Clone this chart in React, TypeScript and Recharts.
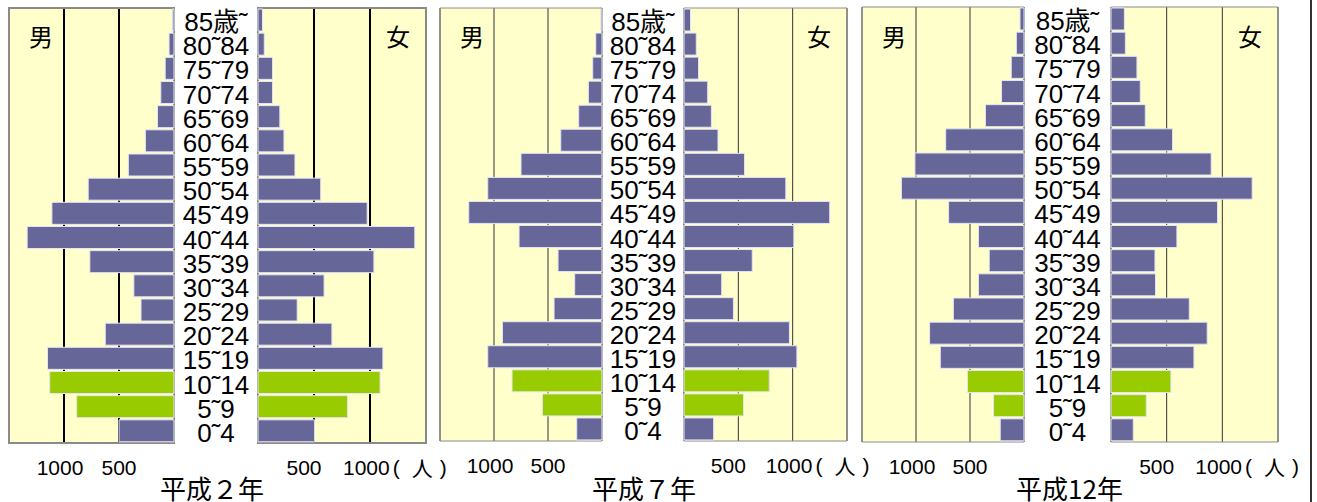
import {
  BarChart,
  Bar,
  Cell,
  XAxis,
  YAxis,
  CartesianGrid,
  ReferenceArea,
} from "recharts";

const ageGroups = [
  "85歳˜", "80˜84", "75˜79", "70˜74", "65˜69", "60˜64", "55˜59", "50˜54", "45˜49",
  "40˜44", "35˜39", "30˜34", "25˜29", "20˜24", "15˜19", "10˜14", "5˜9", "0˜4",
];
const youthGroups = ["10˜14", "5˜9"];

const maleH2 = [15, 45, 80, 120, 150, 260, 415, 780, 1110, 1335, 765, 365, 300, 625, 1150, 1130, 885, 500];
const femaleH2 = [40, 56, 130, 130, 195, 232, 330, 560, 975, 1400, 1035, 590, 350, 660, 1115, 1090, 800, 505];
const maleH7 = [10, 58, 86, 126, 216, 382, 750, 1058, 1234, 768, 407, 253, 444, 922, 1058, 833, 552, 234];
const femaleH7 = [60, 113, 134, 218, 252, 313, 557, 937, 1341, 1011, 628, 347, 455, 970, 1039, 785, 548, 273];
const maleH12 = [37, 71, 118, 208, 357, 725, 1010, 1135, 698, 422, 322, 422, 654, 874, 775, 524, 282, 220];
const femaleH12 = [120, 129, 233, 263, 308, 553, 900, 1268, 957, 592, 395, 400, 703, 864, 745, 538, 317, 200];

const gridTicks = [500, 1000];
const maxPeople = 1500;
const unitLabel = "人";

const BAR = "#666699";
const YOUTH = "#99cc00";
const LATIN = "'Liberation Sans', Arial, 'Noto Sans CJK JP', sans-serif";
const CJK = "'Noto Sans CJK JP', 'Liberation Sans', sans-serif";

const panels = [
  { title: "平成２年", male: maleH2, female: femaleH2, top: 8, plotH: 435, leftX: 9, leftW: 165, rightZero: 258, rightW: 168, bold: true, titleShift: -4 },
  { title: "平成７年", male: maleH7, female: femaleH7, top: 8, plotH: 433, leftX: 440, leftW: 162, rightZero: 684, rightW: 163, bold: false, titleShift: 1 },
  { title: "平成12年", male: maleH12, female: femaleH12, top: 7, plotH: 435, leftX: 862, leftW: 162, rightZero: 1111, rightW: 167, bold: false, titleShift: 2 },
];

const AXIS_H = 40;

function toRows(values: number[]) {
  return ageGroups.map((age, i) => ({ age, value: values[i] }));
}

function LeftTick({ x, y, payload }: any) {
  const dx = payload.value === 1000 ? -4 : 0;
  return (
    <text x={x + dx} y={y + 24} textAnchor="middle" dominantBaseline="central" fontSize={21} fontFamily={LATIN} fill="#000">
      {payload.value}
    </text>
  );
}

function RightTick({ x, y, payload }: any) {
  if (payload.value === 1000) {
    return (
      <text x={x - 27} y={y + 24} textAnchor="start" dominantBaseline="central" fontSize={21} fontFamily={LATIN} fill="#000">
        {payload.value}
        <tspan dx={3}>(</tspan>
        <tspan dx={12} fontFamily={CJK}>{unitLabel}</tspan>
        <tspan dx={7}>)</tspan>
      </text>
    );
  }
  return (
    <text x={x - 10} y={y + 24} textAnchor="middle" dominantBaseline="central" fontSize={21} fontFamily={LATIN} fill="#000">
      {payload.value}
    </text>
  );
}

function AgeTick({ x, y, payload, gap }: any) {
  return (
    <text x={x - gap / 2} y={y + 2} textAnchor="middle" dominantBaseline="central" fontSize={26} fontFamily={LATIN} fill="#000">
      {payload.value}
    </text>
  );
}

function HalfChart({ values, side, panel }: any) {
  const isLeft = side === "left";
  const gap = panel.rightZero - (panel.leftX + panel.leftW);
  const yAxisW = isLeft ? 0 : gap;
  const width = isLeft ? panel.leftW : gap + panel.rightW;
  const left = isLeft ? panel.leftX : panel.leftX + panel.leftW;
  const frameW = panel.bold ? 2 : 1;
  return (
    <div style={{ position: "absolute", left, top: 0 }}>
      <BarChart
        width={width}
        height={panel.top + panel.plotH + AXIS_H}
        data={toRows(values)}
        layout="vertical"
        margin={{ top: panel.top, right: 0, bottom: 0, left: 0 }}
        barCategoryGap={1}
      >
        <CartesianGrid
          horizontal={false}
          fill="#ffffcc"
          fillOpacity={1}
          stroke={panel.bold ? "#000" : "#333"}
          strokeWidth={panel.bold ? 2 : 1}
        />
        <XAxis
          type="number"
          domain={[0, maxPeople]}
          reversed={isLeft}
          ticks={gridTicks}
          interval={0}
          axisLine={false}
          tickLine={false}
          tickSize={0}
          tickMargin={0}
          height={AXIS_H}
          tick={isLeft ? <LeftTick /> : <RightTick />}
        />
        <YAxis
          type="category"
          dataKey="age"
          width={yAxisW}
          hide={isLeft}
          interval={0}
          axisLine={false}
          tickLine={false}
          tickSize={0}
          tickMargin={0}
          tick={<AgeTick gap={gap} />}
        />
        <Bar dataKey="value" isAnimationActive={false} stroke="#e4e4f4" strokeWidth={1}>
          {ageGroups.map((age) => (
            <Cell key={age} fill={youthGroups.includes(age) ? YOUTH : BAR} />
          ))}
        </Bar>
        <ReferenceArea x1={0} x2={maxPeople} fill="none" fillOpacity={0} stroke="#8a8a8a" strokeWidth={frameW} />
      </BarChart>
    </div>
  );
}

function Panel({ panel }: any) {
  const labelCenter = panel.leftX + panel.leftW + (panel.rightZero - panel.leftX - panel.leftW) / 2;
  const rightEdge = panel.rightZero + panel.rightW;
  const sexStyle: any = {
    position: "absolute",
    top: 22,
    fontSize: 24,
    fontFamily: CJK,
    lineHeight: "28px",
    color: "#000",
  };
  return (
    <>
      <HalfChart values={panel.male} side="left" panel={panel} />
      <HalfChart values={panel.female} side="right" panel={panel} />
      <div style={{ ...sexStyle, left: panel.leftX + 20 }}>男</div>
      <div style={{ ...sexStyle, left: rightEdge - 40 }}>女</div>
      <div
        style={{
          position: "absolute",
          left: labelCenter - 80 + panel.titleShift,
          width: 160,
          top: 471,
          textAlign: "center",
          fontSize: 26,
          lineHeight: "34px",
          fontFamily: CJK,
          color: "#000",
        }}
      >
        {panel.title}
      </div>
    </>
  );
}

export default function App() {
  return (
    <div style={{ position: "absolute", left: 0, top: 0, width: 1317, height: 502, background: "#fff", overflow: "hidden" }}>
      <style>{".recharts-surface{overflow:visible}.recharts-wrapper{overflow:visible}"}</style>
      {panels.map((p) => (
        <Panel key={p.title} panel={p} />
      ))}
      <div style={{ position: "absolute", left: 1310, top: 0, width: 2, height: 502, background: "#333" }} />
    </div>
  );
}
